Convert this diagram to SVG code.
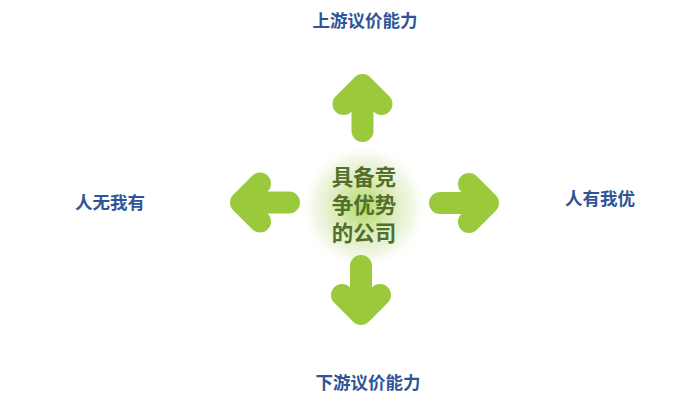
<svg xmlns="http://www.w3.org/2000/svg" width="700" height="406" viewBox="0 0 700 406">
<defs>
<radialGradient id="glow" cx="0.5" cy="0.5" r="0.5">
<stop offset="0" stop-color="#b5d867"/>
<stop offset="0.45" stop-color="#dcecbb"/>
<stop offset="0.8" stop-color="#f3f8ea"/>
<stop offset="1" stop-color="#ffffff" stop-opacity="0"/>
</radialGradient>
<style>
.arrow{fill:none;stroke:#9aca3c;stroke-width:22;stroke-linecap:round;stroke-linejoin:round}
.lbl{font-family:"Noto Sans CJK SC","Noto Sans",sans-serif;font-weight:bold;font-size:17.5px;fill:#2f5597;text-anchor:middle}
.ctr{font-family:"Noto Sans CJK SC","Noto Sans",sans-serif;font-weight:bold;font-size:21.5px;fill:#52702a;text-anchor:middle}
</style>
</defs>
<rect width="700" height="406" fill="#ffffff"/>
<g id="center">
<circle cx="364" cy="207" r="63" fill="url(#glow)"/>
<text class="ctr" x="364" y="185">具备竞</text>
<text class="ctr" x="364" y="213">争优势</text>
<text class="ctr" x="364" y="241">的公司</text>
</g>
<g id="connectors">
<path class="arrow" d="M362.5,131 V85 M343.5,104 L362.5,85 L381.5,104"/>
<path class="arrow" d="M361,266 V314 M342,295 L361,314 L380,295"/>
<path class="arrow" d="M289,202.5 H241 M260,183.5 L241,202.5 L260,221.5"/>
<path class="arrow" d="M440,203 H488 M469,184 L488,203 L469,222"/>
</g>
<g id="top"><text class="lbl" x="365" y="27">上游议价能力</text></g>
<g id="bottom"><text class="lbl" x="368" y="389">下游议价能力</text></g>
<g id="left"><text class="lbl" x="110" y="209">人无我有</text></g>
<g id="right"><text class="lbl" x="600" y="205">人有我优</text></g>
</svg>
